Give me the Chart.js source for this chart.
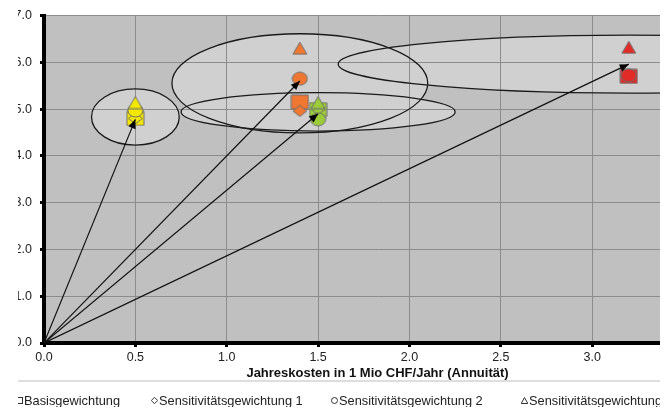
<!DOCTYPE html>
<html>
<head>
<meta charset="utf-8">
<script src="https://cdn.jsdelivr.net/npm/chart.js@4.4.0/dist/chart.umd.min.js"></script>
<style>
html, body { margin: 0; padding: 0; background: #fff; }
#crop { position: absolute; left: 18px; top: 0; width: 642px; height: 407px; overflow: hidden; }
#wrap { position: absolute; left: -18px; top: 0; width: 720px; height: 407px; }
#sep { position: absolute; left: 0; top: 380px; width: 680px; height: 2px; background: #dedede; }
.lg { position: absolute; top: 392px; font: 12.8px "Liberation Sans", Arial, sans-serif; color: #222;
      white-space: nowrap; line-height: 17px; }
.lg svg { vertical-align: 1px; margin-right: 1px; }
</style>
</head>
<body>
<div id="crop">
  <div id="wrap">
    <canvas id="myChart" width="720" height="407"></canvas>
    <div id="sep"></div>
  </div>
</div>
<script>
// variants (x = annual cost) and the four weightings
var costs = [0.5, 1.4, 1.5, 3.2];
var basis = [4.80, 5.15, 4.99, 5.70];
var sens1 = [4.80, 4.96, 5.00, 5.70];
var sens2 = [4.97, 5.65, 4.78, 5.72];
var sens3 = [5.14, 6.30, 5.14, 6.32];

// arrow tips (arrows start in the origin)
var arrowTipY = [4.78, 5.60, 4.90, 5.96];

// spread ellipses per variant
var ellipseX = [0.50, 1.40, 1.50, 3.20];
var ellipseY = [4.83, 5.55, 4.94, 5.96];
var ellipseRx = [0.24, 0.70, 0.75, 1.59];
var ellipseRy = [0.60, 1.06, 0.41, 0.62];

var xTickValues = [0, 0.5, 1, 1.5, 2, 2.5, 3, 3.5];
var xTickLabels = ["0.0", "0.5", "1.0", "1.5", "2.0", "2.5", "3.0", "3.5"];
var yTickValues = [0, 1, 2, 3, 4, 5, 6, 7];
var yTickLabels = ["0.0", "1.0", "2.0", "3.0", "4.0", "5.0", "6.0", "7.0"];

var legendLabels = ["Basisgewichtung", "Sensitivitätsgewichtung 1", "Sensitivitätsgewichtung 2", "Sensitivitätsgewichtung 3"];

var variantColors = ["#f5e800", "#ef7732", "#9ccc3a", "#e22a26"];
var shapes = ["rect", "rectRot", "circle", "triangle"];
var legendLeft = [16, 151, 331, 521];

// marker images (the picture is a bit stretched horizontally)
function marker(shape, color) {
    var size = { rect: [17, 14], rectRot: [14, 11], circle: [15, 13], triangle: [14, 12] }[shape];
    var w = size[0], h = size[1];
    var c = document.createElement("canvas");
    c.width = w + 2;
    c.height = h + 2;
    var g = c.getContext("2d");
    g.fillStyle = color;
    g.strokeStyle = "#6e6e6e";
    g.lineWidth = 1;
    g.beginPath();
    if (shape == "rect") {
        g.rect(1, 1, w, h);
    } else if (shape == "circle") {
        g.ellipse(1 + w / 2, 1 + h / 2, w / 2, h / 2, 0, 0, Math.PI * 2);
    } else if (shape == "rectRot") {
        g.moveTo(1 + w / 2, 1);
        g.lineTo(1 + w, 1 + h / 2);
        g.lineTo(1 + w / 2, 1 + h);
        g.lineTo(1, 1 + h / 2);
        g.closePath();
    } else {
        g.moveTo(1 + w / 2, 1);
        g.lineTo(1 + w, 1 + h);
        g.lineTo(1, 1 + h);
        g.closePath();
    }
    g.fill();
    g.stroke();
    return c;
}

function points(values) {
    return values.map(function (v, i) { return { x: costs[i], y: v }; });
}

var series = [basis, sens1, sens2, sens3];
var datasets = [];
// squares at the bottom, triangles on top
series.forEach(function (values, s) {
    datasets.push({
        label: legendLabels[s],
        data: points(values),
        pointStyle: variantColors.map(function (col) { return marker(shapes[s], col); }),
        pointRadius: 7,
        order: 4 - s
    });
});
costs.forEach(function (c, i) {
    datasets.push({
        arrow: true,
        data: [{ x: 0, y: 0 }, { x: c, y: arrowTipY[i] }],
        showLine: true,
        borderColor: "#111",
        borderWidth: 1.2,
        pointRadius: 0,
        order: 0
    });
});

var font = "Liberation Sans";

var plotBackground = {
    id: "plotBackground",
    beforeDraw: function (chart) {
        var ctx = chart.ctx, a = chart.chartArea;
        var xs = chart.scales.x, ys = chart.scales.y;
        ctx.save();
        ctx.fillStyle = "#c0c0c0";
        ctx.fillRect(a.left, a.top, a.right - a.left, a.bottom - a.top);
        ctx.beginPath();
        ctx.rect(a.left, a.top, a.right - a.left, a.bottom - a.top);
        ctx.clip();
        ctx.fillStyle = "#d0d0d0";
        ellipseX.forEach(function (ex, i) {
            var cx = xs.getPixelForValue(ex), cy = ys.getPixelForValue(ellipseY[i]);
            var rx = xs.getPixelForValue(ex + ellipseRx[i]) - cx;
            var ry = cy - ys.getPixelForValue(ellipseY[i] + ellipseRy[i]);
            ctx.beginPath();
            ctx.ellipse(cx, cy, rx, ry, 0, 0, Math.PI * 2);
            ctx.fill();
        });
        ctx.restore();
    },
    beforeDatasetsDraw: function (chart) {
        var ctx = chart.ctx, a = chart.chartArea;
        var xs = chart.scales.x, ys = chart.scales.y;
        ctx.save();
        ctx.beginPath();
        ctx.rect(a.left, a.top, a.right - a.left, a.bottom - a.top);
        ctx.clip();
        ctx.strokeStyle = "#1a1a1a";
        ctx.lineWidth = 1.3;
        ellipseX.forEach(function (ex, i) {
            var cx = xs.getPixelForValue(ex), cy = ys.getPixelForValue(ellipseY[i]);
            var rx = xs.getPixelForValue(ex + ellipseRx[i]) - cx;
            var ry = cy - ys.getPixelForValue(ellipseY[i] + ellipseRy[i]);
            ctx.beginPath();
            ctx.ellipse(cx, cy, rx, ry, 0, 0, Math.PI * 2);
            ctx.stroke();
        });
        ctx.restore();
    },
    afterDatasetsDraw: function (chart) {
        var ctx = chart.ctx;
        chart.data.datasets.forEach(function (ds, i) {
            if (!ds.arrow) return;
            var pts = chart.getDatasetMeta(i).data;
            var p0 = pts[0], p1 = pts[1];
            var ang = Math.atan2(p1.y - p0.y, p1.x - p0.x);
            ctx.save();
            ctx.translate(p1.x, p1.y);
            ctx.rotate(ang);
            ctx.fillStyle = "#000";
            ctx.beginPath();
            ctx.moveTo(0, 0);
            ctx.lineTo(-9, -3.8);
            ctx.lineTo(-9, 3.8);
            ctx.closePath();
            ctx.fill();
            ctx.restore();
        });
    }
};

var ctx = document.getElementById("myChart").getContext("2d");
var myChart = new Chart(ctx, {
    type: "scatter",
    data: { datasets: datasets },
    options: {
        responsive: false,
        animation: false,
        events: [],
        layout: { padding: { top: 10, left: 0, right: 9, bottom: 0 } },
        plugins: { legend: { display: false }, tooltip: { enabled: false } },
        scales: {
            x: {
                type: "linear",
                min: 0,
                max: 3.65,
                afterBuildTicks: function (s) { s.ticks = xTickValues.map(function (v) { return { value: v }; }); },
                afterFit: function (s) { s.height = 64; },
                grid: { color: "#8c8c8c", lineWidth: 1, tickColor: "#000", tickLength: 4, tickWidth: 3 },
                border: { color: "#000", width: 4 },
                ticks: {
                    color: "#222",
                    padding: 3,
                    maxRotation: 0,
                    autoSkip: false,
                    font: { family: font, size: 12.5 },
                    callback: function (v, i) { return xTickLabels[i]; }
                },
                title: {
                    display: true,
                    text: "Jahreskosten in 1 Mio CHF/Jahr (Annuität)",
                    color: "#111",
                    font: { family: font, size: 13, weight: "bold" },
                    padding: { top: 0, bottom: 26 }
                }
            },
            y: {
                type: "linear",
                min: 0,
                max: 7,
                afterBuildTicks: function (s) { s.ticks = yTickValues.map(function (v) { return { value: v }; }); },
                afterFit: function (s) { s.width = 44; },
                grid: { color: "#8c8c8c", lineWidth: 1, tickColor: "#000", tickLength: 4, tickWidth: 3 },
                border: { color: "#000", width: 4 },
                ticks: {
                    color: "#222",
                    padding: 8,
                    font: { family: font, size: 12.5 },
                    callback: function (v, i) { return yTickLabels[i]; }
                }
            }
        }
    },
    plugins: [plotBackground]
});

// legend below the axis title
var icons = {
    rect: '<rect x="0.5" y="0.5" width="6" height="6"/>',
    rectRot: '<polygon points="3.5,0.3 6.7,3.5 3.5,6.7 0.3,3.5"/>',
    circle: '<circle cx="3.5" cy="3.5" r="3"/>',
    triangle: '<polygon points="3.5,0.5 6.8,6.5 0.2,6.5"/>'
};
var wrap = document.getElementById("wrap");
legendLabels.forEach(function (txt, i) {
    var el = document.createElement("div");
    el.className = "lg";
    el.style.left = legendLeft[i] + "px";
    el.innerHTML = '<svg width="7" height="7" fill="none" stroke="#333" stroke-width="1">' + icons[shapes[i]] + "</svg>";
    el.appendChild(document.createTextNode(txt));
    wrap.appendChild(el);
});
</script>
</body>
</html>
